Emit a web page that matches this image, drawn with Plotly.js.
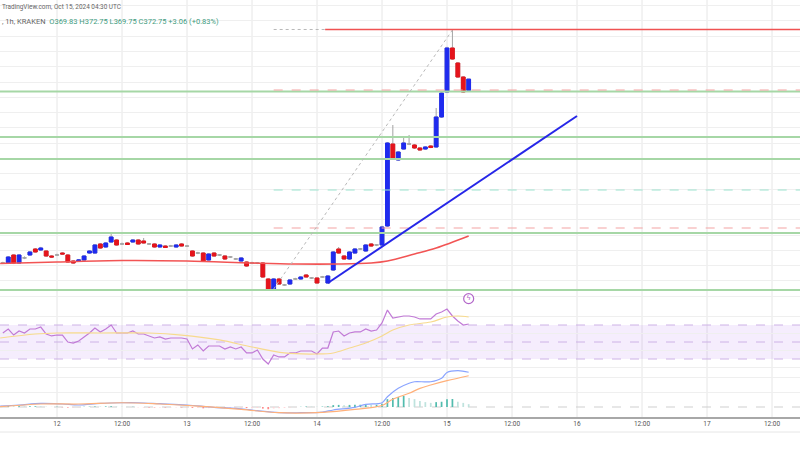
<!DOCTYPE html>
<html>
<head>
<meta charset="utf-8">
<script src="https://cdn.plot.ly/plotly-3.0.1.min.js"></script>
<style>html,body{margin:0;padding:0;background:#fff;}#chart{width:800px;height:450px;}</style>
</head>
<body>
<div id="chart"></div>
<script>
// ---------- DATA (hourly candles, Oct 11 14:00 UTC .. Oct 15 04:00 UTC) ----------
const firstHour = -10; // hours relative to 2024-10-12 00:00 UTC
const openP = [324.70,324.68,326.77,324.68,325.99,326.77,328.34,328.08,327.82,326.51,
326.75,327.29,326.77,325.20,325.20,325.46,327.29,327.29,329.65,328.86,330.17,330.69,329.63,329.91,330.17,330.69,330.43,329.63,329.65,328.86,329.12,329.10,328.86,329.65,
329.14,327.82,327.27,327.29,325.46,327.29,326.75,326.51,326.23,325.71,325.20,324.94,324.66,324.70,324.68,320.50,317.88,320.50,318.91,319.19,320.48,320.50,321.54,320.74,
320.76,321.00,319.45,322.85,328.34,326.51,325.73,327.29,328.32,327.82,329.65,329.37,329.39,334.35,355.79,351.61,354.48,355.77,355.53,354.75,354.48,355.27,355.01,362.85,
369.39,380.89,376.97,373.31,369.83];
const highP = [325.0,326.51,326.9,327.0,326.4,327.8,328.6,328.9,328.0,326.7,
327.1,327.5,327.0,325.4,325.7,326.7,328.0,329.6,329.9,330.1,332.26,330.9,330.0,330.1,330.9,330.9,331.22,329.9,329.8,329.6,329.3,329.4,329.6,329.9,
329.4,328.0,327.6,327.5,327.2,327.5,327.0,326.7,326.5,326.0,326.2,325.1,325.0,324.9,324.9,320.7,320.7,320.8,319.2,320.4,320.8,321.2,321.8,321.0,
320.9,321.3,321.5,327.8,328.86,326.7,327.8,328.6,328.6,329.6,329.9,329.6,334.4,356.3,360.76,353.9,357.62,358.14,355.8,354.9,355.2,355.5,365.20,369.4,
381.2,385.59,377.2,373.5,372.75];
const lowP = [324.4,324.42,324.4,324.5,325.7,326.6,327.4,327.9,326.3,326.0,
326.5,326.9,324.8,324.5,325.0,325.3,327.1,327.1,328.4,328.7,330.0,329.2,329.4,329.4,330.0,329.5,329.8,329.4,328.7,328.7,328.6,328.9,328.7,329.0,
328.9,326.3,327.0,325.0,325.3,326.3,326.5,325.5,326.0,325.5,325.0,323.7,324.4,324.4,320.8,317.6,317.6,319.0,318.7,319.0,320.3,320.3,320.9,320.5,
319.3,320.8,319.3,322.6,327.1,325.5,325.5,327.1,328.1,327.6,328.9,329.1,329.2,334.1,351.9,351.4,354.3,355.5,354.5,354.0,354.3,354.7,354.8,362.6,
369.2,377.8,373.1,369.2,369.75];
const closeP = [324.66,326.25,324.68,326.77,326.02,327.56,327.56,328.60,326.51,326.25,
326.79,327.03,324.94,324.68,325.46,326.51,327.82,329.39,328.60,329.91,331.48,329.39,329.67,329.52,330.69,329.65,329.91,329.67,328.86,329.39,328.73,329.14,329.39,329.12,
329.10,326.51,327.31,325.20,327.03,326.51,326.79,325.73,326.27,325.75,325.99,323.90,324.70,324.66,321.02,317.88,320.50,319.19,318.95,320.24,320.52,321.02,321.02,320.78,
319.45,321.04,321.28,327.56,327.29,325.73,327.56,328.34,328.36,329.39,329.12,329.41,334.09,356.05,352.13,353.70,356.05,355.81,354.75,354.22,355.01,354.88,362.85,369.12,
380.89,378.01,373.31,369.39,372.75];

// moving average on price (sparse readings)
const maHours  = [-10.5, 0, 12, 24, 36, 44, 52, 58, 61, 66, 70, 76];
const maValues = [324.55,324.94,325.33,325.20,324.68,324.42,324.42,324.68,325.20,327.03,328.60,331.74];

// RSI (one per candle) and its moving average (sparse)
const rsiValues = [60.6,65.3,58.2,62.9,60.6,65.3,65.3,67.6,59.4,57.1,
58.2,58.2,50.0,48.8,51.2,55.9,60.6,66.5,61.8,65.3,70.0,60.6,60.6,60.6,62.9,59.4,59.4,57.1,54.7,55.9,53.5,54.7,54.7,54.7,
53.5,41.8,46.5,39.4,45.3,45.3,45.3,41.8,44.1,41.8,44.1,37.1,37.1,40.6,30.0,24.1,34.7,32.4,32.4,37.1,37.1,39.4,39.4,39.4,
35.9,42.9,42.9,61.8,62.9,57.1,60.6,61.8,61.8,65.3,62.9,64.1,72.4,87.6,78.2,79.4,80.6,80.6,79.4,77.1,77.1,77.1,82.9,85.3,
88.8,80.6,74.7,70.0,71.2];
const rsiMaHours  = [-10.5,-4,0,8,17,23,30,36,42,48,51,54,57,60,62,65,69,72,74,76];
const rsiMaValues = [54.7,59.4,60.6,60.6,60.6,58.2,52.4,44.1,37.1,35.9,37.1,42.9,48.8,57.1,64.1,70.0,73.5,79.4,80.6,79.4];

// MACD line, signal line (sparse readings) and histogram (one per candle)
const macdHours  = [-10.5,-7,-3,1,4,8,12,15,19,24,29,34,37,41,45,49,51,55,57,60,61,63,65,66,69,71,72,74,76];
const macdValues = [0.13,0.27,0.49,0.40,0.27,0.49,0.57,0.57,0.44,0.27,-0.04,-0.23,-0.49,-0.76,-0.76,-0.67,-0.40,-0.04,0.36,0.57,1.37,2.49,3.16,3.37,3.37,3.83,4.60,4.84,4.63];
const signalHours  = [-10.5,-3,4,12,19,26,34,41,49,55,60,62,65,67,69,72,76];
const signalValues = [0.04,0.40,0.40,0.57,0.40,0.13,-0.31,-0.76,-0.71,-0.31,0.20,1.03,1.83,2.49,2.93,3.51,4.17];
const histValues = [0.12,0.12,0.10,0.10,0.08,0.10,0.10,0.08,0.04,0.02,
0.03,-0.04,-0.08,-0.08,-0.05,0.02,0.05,0.08,0.06,0.08,0.10,0.05,0.04,0.02,0.03,-0.02,-0.03,-0.05,-0.06,-0.05,-0.06,-0.05,-0.05,-0.06,
-0.06,-0.12,-0.12,-0.18,-0.15,-0.14,-0.13,-0.14,-0.12,-0.12,-0.10,-0.14,-0.13,-0.12,-0.22,-0.30,-0.20,-0.15,-0.12,-0.05,-0.02,0.03,0.06,0.05,
0.02,0.06,0.10,0.25,0.28,0.25,0.28,0.30,0.30,0.32,0.30,0.30,0.45,1.05,1.20,1.33,1.47,1.20,1.05,0.80,0.65,0.55,0.65,0.70,
1.05,1.07,0.70,0.55,0.38];

// drawn levels
const supportLevels = [369.52, 357.62, 351.87, 332.52, 317.62];      // green, full width
const fibStartHour = 40;                                             // fib tool anchored at the low
const fibLevels = [369.91, 343.76, 333.83];                          // dashed
const fibColors = ['#f4a3a3', '#9de3cf', '#f4a3a3'];
const swingLow  = {h: 40, p: 317.88};
const swingHigh = {h: 73, p: 385.59};
const resistance = {h: 49.5, p: 385.73};                             // red ray
const trendLine = {h0: 50, p0: 319.45, h1: 96, p1: 363.11};          // blue rising support

// time axis
const tickHours = [0,12,24,36,48,60,72,84,96,108,120,132];
const tickText  = ['12','12:00','13','12:00','14','12:00','15','12:00','16','12:00','17','12:00'];

// header
const headerLine1 = 'TradingView.com, Oct 15, 2024 04:30 UTC';
const headerChange = '+3.06 (+0.83%)';

// ---------- helpers ----------
const T0 = Date.UTC(2024, 9, 12, 0, 0, 0);
function t(h){ return new Date(T0 + h*3600e3).toISOString().slice(0,19).replace('T',' '); }
const candleTimes = openP.map((_, i) => t(firstHour + i));
const last = openP.length - 1;

const BLUE = '#1f2bef', RED = '#e5141c', WICK = '#a3a3a3';

// bodies only (dojis left to the wick trace, which draws them grey)
const isDoji = openP.map((o, i) => Math.abs(closeP[i] - o) < 0.1);
const bOpen  = openP.map((o, i) => isDoji[i] ? null : o);
const bClose = closeP.map((c, i) => isDoji[i] ? null : c);
const bHigh  = openP.map((o, i) => isDoji[i] ? null : Math.max(o, closeP[i]));
const bLow   = openP.map((o, i) => isDoji[i] ? null : Math.min(o, closeP[i]));

const histColors = histValues.map((v, i) => {
  const prev = i > 0 ? histValues[i-1] : v;
  if (v >= 0) return v >= prev ? '#52bcae' : '#bfe3de';
  return v < prev ? '#ff8a8a' : '#ffd3d6';
});

const traces = [
  {type:'candlestick', x:candleTimes, open:openP, high:highP, low:lowP, close:closeP,
   increasing:{line:{color:WICK, width:1}, fillcolor:WICK},
   decreasing:{line:{color:WICK, width:1}, fillcolor:WICK},
   whiskerwidth:0, hoverinfo:'skip', xaxis:'x', yaxis:'y'},
  {type:'candlestick', x:candleTimes, open:bOpen, high:bHigh, low:bLow, close:bClose,
   increasing:{line:{color:BLUE, width:1}, fillcolor:BLUE},
   decreasing:{line:{color:RED, width:1}, fillcolor:RED},
   whiskerwidth:0, hoverinfo:'skip', xaxis:'x', yaxis:'y'},
  {type:'scatter', mode:'lines', x:maHours.map(t), y:maValues,
   line:{color:'#f25454', width:1.6, shape:'spline'}, xaxis:'x', yaxis:'y'},
  // RSI
  {type:'scatter', mode:'lines', x:candleTimes, y:rsiValues,
   line:{color:'#c17ad6', width:1.2}, xaxis:'x', yaxis:'y2'},
  {type:'scatter', mode:'lines', x:rsiMaHours.map(t), y:rsiMaValues,
   line:{color:'#f7da8e', width:1.2, shape:'spline'}, xaxis:'x', yaxis:'y2'},
  // event marker
  {type:'scatter', mode:'markers+text', x:[candleTimes[last]], y:[101],
   marker:{symbol:'circle', size:10, color:'rgba(255,255,255,1)', line:{color:'#b266c9', width:1.2}},
   text:['ϟ'], textfont:{size:7, color:'#b266c9'}, textposition:'middle center',
   cliponaxis:false, xaxis:'x', yaxis:'y2'},
  // MACD
  {type:'bar', x:candleTimes, y:histValues, width:0.32*3600e3,
   marker:{color:histColors, line:{width:0}}, xaxis:'x', yaxis:'y3'},
  {type:'scatter', mode:'lines', x:macdHours.map(t), y:macdValues,
   line:{color:'#8aa4ff', width:1.2, shape:'spline'}, xaxis:'x', yaxis:'y3'},
  {type:'scatter', mode:'lines', x:signalHours.map(t), y:signalValues,
   line:{color:'#ffb07a', width:1.2, shape:'spline'}, xaxis:'x', yaxis:'y3'}
];

const xStart = t(-(57/130)*24), xEnd = t(((800-57)/130)*24);
const shapes = [];
// vertical grid
tickHours.forEach(h => shapes.push({type:'line', xref:'x', yref:'paper', x0:t(h), x1:t(h), y0:33/450, y1:1,
  line:{color:'#e6e6e6', width:1}, layer:'below'}));
// RSI band
shapes.push({type:'rect', xref:'paper', yref:'y2', x0:0, x1:1, y0:30, y1:70, fillcolor:'rgba(160,90,235,0.11)', line:{width:0}, layer:'below'});
[70,50,30].forEach(v => shapes.push({type:'line', xref:'paper', yref:'y2', x0:0, x1:1, y0:v, y1:v,
  line:{color:'#cdb2e6', width:1, dash:'dash'}, layer:'below'}));
// MACD zero
shapes.push({type:'line', xref:'paper', yref:'y3', x0:0, x1:1, y0:0, y1:0, line:{color:'#cfcfcf', width:1, dash:'dash'}, layer:'below'});
// green support lines
supportLevels.forEach(p => shapes.push({type:'line', xref:'paper', yref:'y', x0:0, x1:1, y0:p, y1:p,
  line:{color:'#a6d7a6', width:2}}));
// fib dashed levels
fibLevels.forEach((p, i) => shapes.push({type:'line', xref:'x', yref:'y', x0:t(fibStartHour), x1:xEnd, y0:p, y1:p,
  line:{color:fibColors[i], width:1.2, dash:'dash'}}));
// fib diagonal and top dotted
shapes.push({type:'line', xref:'x', yref:'y', x0:t(swingLow.h), y0:swingLow.p, x1:t(swingHigh.h), y1:swingHigh.p,
  line:{color:'#b9b9b9', width:1, dash:'dot'}});
shapes.push({type:'line', xref:'x', yref:'y', x0:t(fibStartHour), y0:resistance.p, x1:t(resistance.h), y1:resistance.p,
  line:{color:'#b9b9b9', width:1, dash:'dot'}});
// red resistance ray
shapes.push({type:'line', xref:'x', yref:'y', x0:t(resistance.h), y0:resistance.p, x1:xEnd, y1:resistance.p,
  line:{color:'#f05252', width:1.6}});
// blue trend line
shapes.push({type:'line', xref:'x', yref:'y', x0:t(trendLine.h0), y0:trendLine.p0, x1:t(trendLine.h1), y1:trendLine.p1,
  line:{color:'#2626e8', width:2}});
// time-scale bottom border
shapes.push({type:'line', xref:'paper', yref:'paper', x0:0, x1:1, y0:18/450, y1:18/450, line:{color:'#e6e6e6', width:1}});

const ohlcText = 'O' + openP[last].toFixed(2) + ' H' + highP[last].toFixed(2) + ' L' + lowP[last].toFixed(2) +
                 ' C' + closeP[last].toFixed(2) + ' ' + headerChange;

const layout = {
  width:800, height:450, margin:{l:0, r:0, t:0, b:0, pad:0},
  paper_bgcolor:'#ffffff', plot_bgcolor:'rgba(0,0,0,0)',
  showlegend:false, hovermode:false, dragmode:false,
  font:{family:'Roboto, "Open Sans", sans-serif', size:6, color:'#555'},
  boxgap:0, boxgroupgap:0.3,
  xaxis:{type:'date', range:[xStart, xEnd], anchor:'y3', showgrid:false, zeroline:false,
         rangeslider:{visible:false}, automargin:false,
         tickvals:tickHours.map(t), ticktext:tickText, ticks:'', tickfont:{size:6.5, color:'#555'},
         showline:true, linecolor:'#a8a8a8', linewidth:1.5, fixedrange:true},
  yaxis:{domain:[152/450, 1], range:[315.53, 393.44], dtick:4, tick0:0, showticklabels:false, automargin:false,
         showgrid:true, gridcolor:'#efefef', gridwidth:1, zeroline:false, fixedrange:true},
  yaxis2:{domain:[72/450, 152/450], range:[7.65, 101.76], tickvals:[20,40,60,80], showticklabels:false, automargin:false,
          showgrid:true, gridcolor:'#efefef', zeroline:false, fixedrange:true},
  yaxis3:{domain:[33/450, 85/450], range:[-1.333, 5.6], tickvals:[2,4], showticklabels:false, automargin:false,
          showgrid:true, gridcolor:'#efefef', zeroline:false, fixedrange:true},
  shapes:shapes,
  annotations:[
    {xref:'paper', yref:'paper', x:0, y:1-7/450, xanchor:'left', yanchor:'middle', showarrow:false,
     text:headerLine1, font:{size:6.4, color:'#666'}},
    {xref:'paper', yref:'paper', x:0, y:1-22/450, xanchor:'left', yanchor:'middle', showarrow:false,
     text:', 1h, KRAKEN  <span style="color:#3e9b7e">' + ohlcText + '</span>', font:{size:7.5, color:'#666'}}
  ]
};

Plotly.newPlot('chart', traces, layout, {staticPlot:true, displayModeBar:false});
</script>
</body>
</html>
